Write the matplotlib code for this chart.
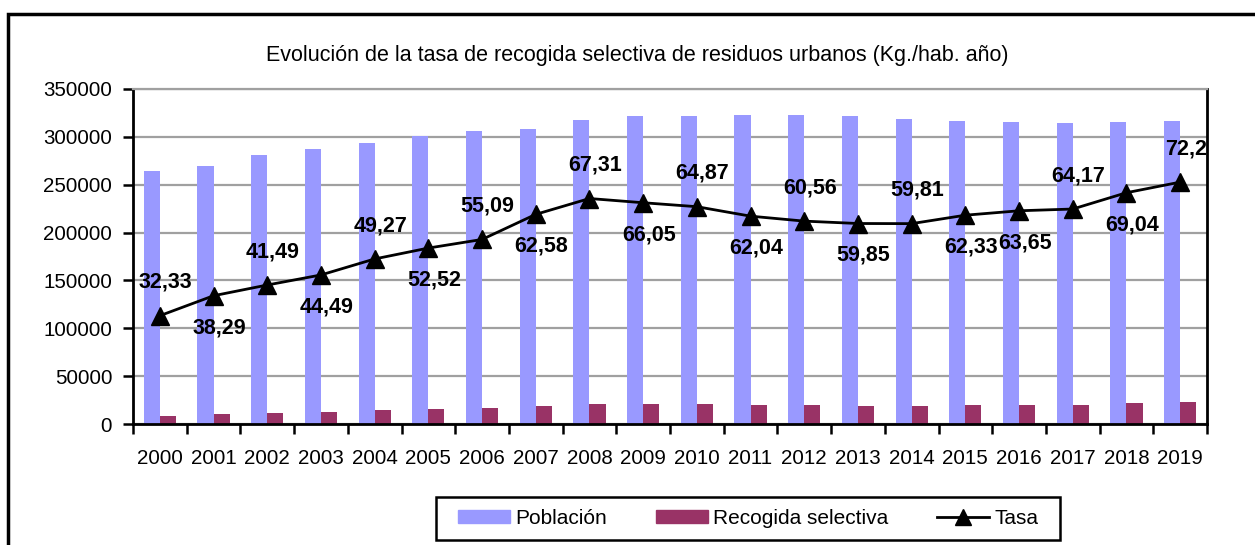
import numpy as np
import matplotlib
matplotlib.use("Agg")
import matplotlib.pyplot as plt
from matplotlib.patches import Patch, Rectangle
from matplotlib.lines import Line2D

plt.rcParams["font.family"] = ["Liberation Sans", "DejaVu Sans"]

# -----------------------------------------
# Data
# -----------------------------------------
years = [str(y) for y in range(2000, 2020)]

poblacion = [264500, 269600, 281100, 287400, 293600, 300900, 306200, 308300,
             317700, 321800, 321800, 322900, 322900, 321800, 318700, 316600,
             315600, 314500, 315600, 316600]

recogida = [8600, 10300, 11700, 12800, 14500, 15800, 16900, 19300,
            21400, 21300, 20900, 20000, 19600, 19300, 19100, 19700,
            20100, 20200, 21800, 22900]

tasa = [32.33, 38.29, 41.49, 44.49, 49.27, 52.52, 55.09, 62.58, 67.31, 66.05,
        64.87, 62.04, 60.56, 59.85, 59.81, 62.33, 63.65, 64.17, 69.04, 72.2]

# where each data label sits relative to its marker
label_side = ["up", "down", "up", "down", "up", "down", "up", "down", "up", "down",
              "up", "down", "up", "down", "up", "down", "down", "up", "down", "up"]

# -----------------------------------------
# Figure
# -----------------------------------------
fig = plt.figure(figsize=(12.55, 5.45), dpi=100)
ax = fig.add_axes([133 / 1255, 1 - 424 / 545, (1207 - 133) / 1255, (424 - 89) / 545])

x = np.arange(len(years))
ax.bar(x - 0.15, poblacion, width=0.3, color="#9999FF", zorder=2)
ax.bar(x + 0.15, recogida, width=0.3, color="#993366", zorder=2)

ax.set_xlim(-0.5, len(years) - 0.5)
ax.set_ylim(0, 350000)
ax.set_yticks(range(0, 350001, 50000))
ax.yaxis.grid(True, color="#a0a0a0", linewidth=1.6, zorder=0)
ax.set_axisbelow(True)

ax.set_xticks(x)
ax.set_xticklabels(years)
ax.set_xticks(np.arange(-0.5, len(years)), minor=True)
ax.tick_params(axis="x", which="major", length=0, pad=18, labelsize=14.8)
ax.tick_params(axis="x", which="minor", length=7, width=1.8, direction="out")
ax.tick_params(axis="y", length=7, width=1.8, direction="out", pad=8, labelsize=14.8)

for side in ["left", "bottom", "right"]:
    ax.spines[side].set_linewidth(2)
    ax.spines[side].set_color("black")
ax.spines["top"].set_color("#a0a0a0")
ax.spines["top"].set_linewidth(1.6)

# -----------------------------------------
# Tasa line on a hidden secondary axis
# -----------------------------------------
ax2 = ax.twinx()
ax2.set_ylim(0, 100)
ax2.set_yticks([])
for s in ax2.spines.values():
    s.set_visible(False)
ax2.plot(x, tasa, color="black", linewidth=2, marker="^", markersize=13, zorder=3)

for xi, v, side in zip(x, tasa, label_side):
    dy = 24 if side == "up" else -23
    ax2.annotate(f"{v:g}".replace(".", ","), (xi, v), xytext=(4, dy),
                 textcoords="offset points", ha="center", va="center",
                 fontsize=15.5, fontweight="bold")

fig.text(0.508, 1 - 56 / 545, "Evolución de la tasa de recogida selectiva de residuos urbanos (Kg./hab. año)",
         ha="center", va="center", fontsize=15.5)

# -----------------------------------------
# Legend
# -----------------------------------------
handles = [Patch(color="#9999FF", label="Población"),
           Patch(color="#993366", label="Recogida selectiva"),
           Line2D([], [], color="black", linewidth=2, marker="^", markersize=11, label="Tasa")]
leg = fig.legend(handles=handles, ncol=3, loc="center",
                 bbox_to_anchor=(748 / 1255, 1 - 518 / 545), fontsize=15,
                 frameon=False, handlelength=2.5, handleheight=0.6,
                 handletextpad=0.25, columnspacing=2.35, borderpad=0.0)

# draw the legend box by hand: wider padding left/right than top/bottom
fig.canvas.draw()
bb = leg.get_window_extent().transformed(fig.transFigure.inverted())
pad_x, pad_y = 22 / 1255, 12 / 545
fig.patches.append(Rectangle((bb.x0 - pad_x, bb.y0 - pad_y),
                             bb.width + 2 * pad_x, bb.height + 2 * pad_y,
                             transform=fig.transFigure, fill=False,
                             edgecolor="black", linewidth=1.8))

# outer chart frame (runs off the right and bottom edges)
fig.patches.append(Rectangle((8 / 1255, -0.1), 1.2, 1 - 14 / 545 + 0.1,
                             transform=fig.transFigure, fill=False,
                             edgecolor="black", linewidth=2.5))

fig.savefig("out.png", dpi=100)
